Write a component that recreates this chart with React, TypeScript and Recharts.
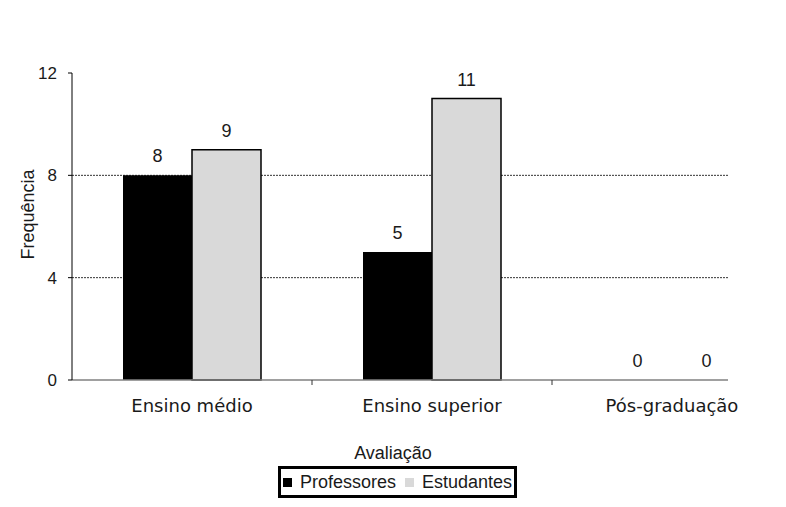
import { BarChart, Bar, XAxis, YAxis, CartesianGrid, Legend, LabelList, Label, Rectangle } from "recharts";

const categories = ["Ensino médio", "Ensino superior", "Pós-graduação"];
const professores = [8, 5, 0];
const estudantes = [9, 11, 0];
const yTicks = [0, 4, 8, 12];
const gridValues = [4, 8];

const data = categories.map((name, i) => ({
  name,
  Professores: professores[i],
  Estudantes: estudantes[i],
}));

const W = 786;
const H = 507;
const SANS = "'Liberation Sans', Arial, sans-serif";
const VERD = "'DejaVu Sans', Verdana, sans-serif";

function CategoryTick(props: any) {
  const { x, y, payload, index } = props;
  const half = payload && payload.offset != null ? payload.offset : 120;
  return (
    <g>
      <text x={x} y={y + 32} textAnchor="middle" fontFamily={VERD} fontSize={18} fill="#1a1a1a">
        {payload.value}
      </text>
      {index < categories.length - 1 && (
        <line x1={x + half} y1={y} x2={x + half} y2={y + 5} stroke="#333" strokeWidth={1} />
      )}
    </g>
  );
}

// zero-valued bars get a tiny height so their labels still show, but draw nothing
const zeroMin = (v: number) => (v === 0 ? 0.5 : 0);
const BarShape = (p: any) => (p.height < 1 ? <g /> : <Rectangle {...p} />);

function LegendBox() {
  const item = (color: string, text: string) => (
    <span style={{ display: "inline-flex", alignItems: "center" }}>
      <span
        style={{
          display: "inline-block",
          width: 9,
          height: 9,
          background: color,
          marginRight: 8,
        }}
      />
      {text}
    </span>
  );
  return (
    <div
      style={{
        display: "flex",
        alignItems: "center",
        gap: 9,
        boxSizing: "border-box",
        width: 239,
        height: 32,
        border: "3px solid #000",
        padding: "0 0 0 2px",
        fontFamily: SANS,
        fontSize: 18,
        color: "#1a1a1a",
        background: "#fff",
        whiteSpace: "nowrap",
      }}
    >
      {item("#000", "Professores")}
      {item("#d9d9d9", "Estudantes")}
    </div>
  );
}

export default function App() {
  return (
    <div style={{ margin: -8, width: W, height: H, background: "#fff", position: "relative" }}>
      <BarChart
        width={W}
        height={H}
        data={data}
        margin={{ top: 73, right: 58, left: 0, bottom: 47 }}
        barGap={0}
      >
        {/* outer frame of the picture; right and bottom edges are cropped off */}
        <path d={`M6.5 ${H} V6.5 H${W}`} stroke="#000" strokeWidth={3} fill="none" />
        <CartesianGrid
          horizontal
          vertical={false}
          horizontalValues={gridValues}
          stroke="#333"
          strokeDasharray="2 1"
        />
        <XAxis
          dataKey="name"
          height={80}
          padding={{ left: 0, right: -64 }}
          axisLine={{ stroke: "#808080", strokeWidth: 1.5 }}
          tickLine={false}
          tickSize={0}
          tickMargin={0}
          tick={<CategoryTick />}
          interval={0}
        >
          <Label
            content={(p: any) => {
              const vb = p.viewBox;
              return (
                <text
                  x={vb.x + vb.width / 2 - 7}
                  y={vb.y + 79}
                  textAnchor="middle"
                  fontFamily={SANS}
                  fontSize={18}
                  fill="#1a1a1a"
                >
                  Avaliação
                </text>
              );
            }}
          />
        </XAxis>
        <YAxis
          width={72}
          domain={[0, 12]}
          ticks={yTicks}
          interval={0}
          axisLine={{ stroke: "#000", strokeWidth: 1 }}
          tickLine={{ stroke: "#000" }}
          tickSize={4}
          tickMargin={11}
          tick={{ fontFamily: SANS, fontSize: 17, fill: "#1a1a1a" }}
        >
          <Label
            content={(p: any) => {
              const vb = p.viewBox;
              const cx = 28;
              const cy = vb.y + vb.height / 2 - 12;
              return (
                <text
                  x={cx}
                  y={cy}
                  transform={`rotate(-90, ${cx}, ${cy})`}
                  textAnchor="middle"
                  dominantBaseline="central"
                  fontFamily={SANS}
                  fontSize={18}
                  fill="#1a1a1a"
                >
                  Frequência
                </text>
              );
            }}
          />
        </YAxis>
        <Legend
          layout="horizontal"
          verticalAlign="middle"
          align="center"
          content={<LegendBox />}
          wrapperStyle={{ top: 466, left: 278, width: "auto", bottom: "auto" }}
        />
        <Bar
          dataKey="Professores"
          fill="#000"
          barSize={69}
          minPointSize={zeroMin}
          shape={BarShape}
          isAnimationActive={false}
        >
          <LabelList
            dataKey="Professores"
            position="top"
            offset={13}
            style={{ fontFamily: SANS, fontSize: 18, fill: "#1a1a1a" }}
          />
        </Bar>
        <Bar
          dataKey="Estudantes"
          fill="#d9d9d9"
          stroke="#000"
          strokeWidth={1.5}
          barSize={69}
          minPointSize={zeroMin}
          shape={BarShape}
          isAnimationActive={false}
        >
          <LabelList
            dataKey="Estudantes"
            position="top"
            offset={13}
            style={{ fontFamily: SANS, fontSize: 18, fill: "#1a1a1a" }}
          />
        </Bar>
      </BarChart>
    </div>
  );
}
